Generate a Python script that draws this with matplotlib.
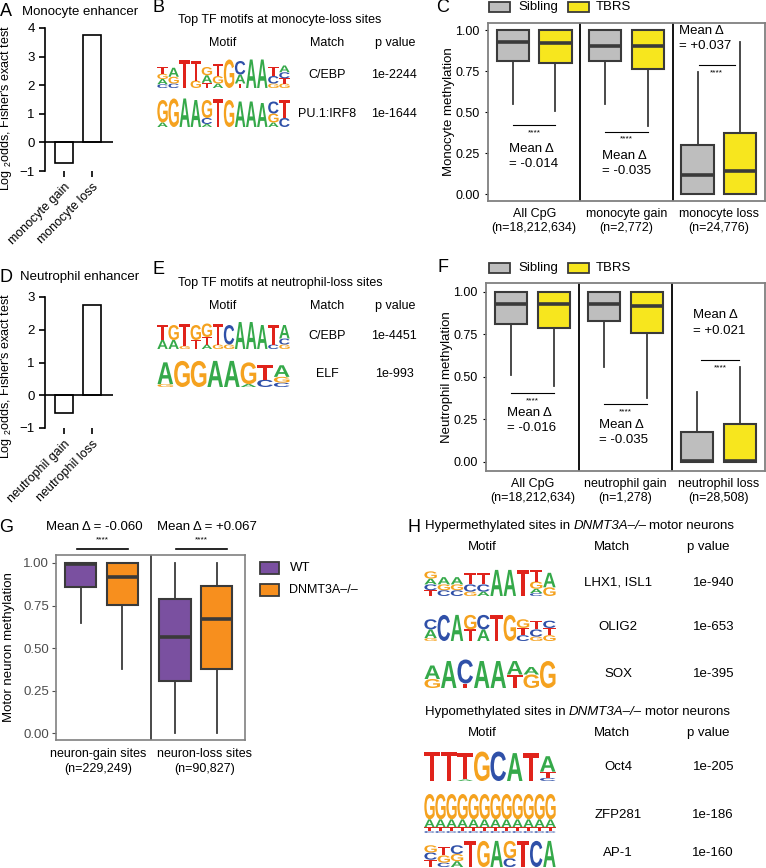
import matplotlib
matplotlib.use("Agg")
import matplotlib.pyplot as plt
from matplotlib.patches import Rectangle, PathPatch
from matplotlib.textpath import TextPath
from matplotlib.font_manager import FontProperties
from matplotlib.transforms import Affine2D

plt.rcParams['font.family'] = ['Liberation Sans', 'DejaVu Sans']
plt.rcParams['mathtext.fontset'] = 'custom'
plt.rcParams['mathtext.rm'] = 'Liberation Sans'
plt.rcParams['mathtext.it'] = 'Liberation Sans:italic'

# ---- data ----
mono_groups = ["monocyte gain", "monocyte loss"]
mono_log2odds = [-0.72, 3.75]
neut_groups = ["neutrophil gain", "neutrophil loss"]
neut_log2odds = [-0.55, 2.75]

# box stats per facet: (whislo, q1, med, q3, whishi)
mono_facets = ["All CpG\n(n=18,212,634)", "monocyte gain\n(n=2,772)", "monocyte loss\n(n=24,776)"]
mono_sibling = [(0.55, 0.81, 0.925, 1.0, 1.0), (0.55, 0.81, 0.905, 1.0, 1.0), (0.0, 0.0, 0.115, 0.30, 0.745)]
mono_tbrs = [(0.51, 0.80, 0.92, 1.0, 1.0), (0.415, 0.76, 0.90, 1.0, 1.0), (0.0, 0.0, 0.14, 0.375, 0.93)]
mono_delta = ["= -0.014", "= -0.035", "= +0.037"]

neut_facets = ["All CpG\n(n=18,212,634)", "neutrophil gain\n(n=1,278)", "neutrophil loss\n(n=28,508)"]
neut_sibling = [(0.51, 0.81, 0.93, 1.0, 1.0), (0.56, 0.83, 0.93, 1.0, 1.0), (0.0, 0.0, 0.005, 0.175, 0.41)]
neut_tbrs = [(0.445, 0.787, 0.93, 1.0, 1.0), (0.375, 0.76, 0.92, 1.0, 1.0), (0.0, 0.0, 0.005, 0.223, 0.56)]
neut_delta = ["= -0.016", "= -0.035", "= +0.021"]

neuron_facets = ["neuron-gain sites\n(n=229,249)", "neuron-loss sites\n(n=90,827)"]
neuron_wt = [(0.65, 0.86, 0.995, 1.0, 1.0), (0.0, 0.305, 0.565, 0.79, 1.0)]
neuron_ko = [(0.378, 0.755, 0.92, 1.0, 1.0), (0.0, 0.376, 0.67, 0.866, 1.0)]
neuron_delta = ["Mean \u0394 = -0.060", "Mean \u0394 = +0.067"]

# motif logos: columns of (letter, bits), top to bottom
mono_cebp_logo = [
    [("T", .45), ("G", .35), ("A", .35), ("C", .25)],
    [("A", .6), ("G", .45), ("C", .3)],
    [("T", 1.9)],
    [("T", 1.3), ("G", .5)],
    [("G", .55), ("A", .5), ("T", .35)],
    [("T", .8), ("G", .5), ("A", .3)],
    [("G", 1.9)],
    [("C", .9), ("A", .6), ("T", .3)],
    [("A", 1.9)],
    [("A", 1.9)],
    [("T", .6), ("C", .5), ("G", .3)],
    [("A", .45), ("C", .4), ("T", .35), ("G", .3)],
]
pu1_irf8_logo = [
    [("G", 1.5), ("A", .3)], [("G", 1.9)], [("A", 1.9)], [("A", 1.8)],
    [("G", 1.2), ("C", .4), ("A", .2)], [("T", 1.9)], [("G", 1.8)], [("A", 1.7)],
    [("A", 1.7)], [("A", 1.6)], [("C", .8), ("G", .6), ("A", .3)], [("T", 1.2), ("C", .6)],
]
neut_cebp_logo = [
    [("T", 1.0), ("A", .6)], [("G", 1.0), ("A", .6)], [("T", 1.5), ("G", .2)],
    [("G", 1.0), ("T", .6)], [("G", .9), ("T", .5), ("A", .3)], [("T", 1.4), ("G", .3)],
    [("C", 1.3), ("G", .3)], [("A", 1.8)], [("A", 1.8)], [("A", 1.6)],
    [("T", 1.3), ("C", .3)], [("A", .9), ("C", .4), ("G", .3)],
]
elf_logo = [
    [("A", 1.5), ("G", .2)], [("G", 1.8)], [("G", 1.8)], [("A", 1.8)], [("A", 1.8)],
    [("G", 1.5), ("A", .2)], [("T", 1.0), ("C", .5)], [("A", .8), ("G", .4), ("C", .3)],
]
lhx_logo = [
    [("G", .5), ("A", .4), ("C", .4), ("T", .4)], [("A", .5), ("G", .4), ("C", .4)],
    [("A", .5), ("G", .4), ("C", .4)], [("T", .8), ("C", .5), ("G", .3)],
    [("T", .8), ("C", .5), ("A", .3)], [("A", 1.8)], [("A", 1.8)], [("T", 1.8)],
    [("T", .8), ("G", .5), ("A", .3), ("C", .2)], [("A", 1.0), ("G", .6)],
]
olig2_logo = [
    [("C", .7), ("A", .6), ("G", .2)], [("C", 1.8)], [("A", 1.8)], [("G", 1.0), ("T", .8)],
    [("C", 1.0), ("A", .8)], [("T", 1.8)], [("G", 1.8)], [("G", .6), ("T", .5), ("C", .4)],
    [("T", .6), ("C", .5), ("G", .3)], [("C", .5), ("T", .5), ("G", .4)],
]
sox_logo = [
    [("A", .9), ("G", .6)], [("A", 1.8)], [("C", 1.6), ("T", .3)], [("A", 1.8)],
    [("A", 1.8)], [("A", .9), ("T", .9)], [("A", .5), ("G", .9)], [("G", 1.8)],
]
oct4_logo = [
    [("T", 1.9)], [("T", 1.9)], [("T", 1.7), ("A", .1)], [("G", 1.9)], [("C", 1.9)],
    [("A", 1.8)], [("T", 1.8)], [("A", 1.0), ("T", .4), ("C", .2)],
]
zfp281_logo = [[("G", 1.3), ("A", .4), ("T", .2), ("C", .1)] for _ in range(12)]
ap1_logo = [
    [("G", .5), ("C", .5), ("T", .5)], [("T", .6), ("G", .5), ("C", .3)],
    [("C", .6), ("G", .5), ("A", .4)], [("T", 1.8)], [("G", 1.8)], [("A", 1.8)],
    [("G", 1.2), ("C", .6)], [("T", 1.8)], [("C", 1.8)], [("A", 1.8)],
]

W, H = 766, 868
fig = plt.figure(figsize=(W / 100, H / 100), dpi=100)

GRAY = "#bebebe"
YELLOW = "#f7e61e"
PURPLE = "#7a50a0"
ORANGE = "#f78f1e"
EDGE = "#3a3a3a"
LOGO_COL = {"A": "#35a94a", "C": "#2f50a8", "G": "#f5a21f", "T": "#e0231b"}
FP = FontProperties(family="Liberation Sans", weight="bold")


def rect(x0, y0, x1, y1):
    return [x0 / W, 1 - y1 / H, (x1 - x0) / W, (y1 - y0) / H]


def txt(x, y, s, **kw):
    kw.setdefault("fontsize", 9)
    kw.setdefault("va", "center")
    return fig.text(x / W, 1 - y / H, s, **kw)


def box(x0, y0, x1, y1, fc):
    fig.patches.append(Rectangle((x0 / W, 1 - y1 / H), (x1 - x0) / W, (y1 - y0) / H,
                                 transform=fig.transFigure, fc=fc, ec=EDGE, lw=1.3))


def draw_letter(ax, ch, x, y, w, h):
    tp = TextPath((0, 0), ch, size=1, prop=FP)
    bb = tp.get_extents()
    tr = Affine2D().translate(-bb.x0, -bb.y0).scale(w / bb.width, h / bb.height).translate(x, y)
    ax.add_patch(PathPatch(tr.transform_path(tp), fc=LOGO_COL[ch], ec="none"))


def logo(x0, y0, x1, y1, columns):
    ax = fig.add_axes(rect(x0, y0, x1, y1))
    ax.set_xlim(0, len(columns))
    ax.set_ylim(0, 2)
    ax.axis("off")
    for i, col in enumerate(columns):
        y = 0
        for ch, h in reversed(col):
            if h > 0:
                draw_letter(ax, ch, i + 0.03, y, 0.94, h)
            y += h


def stats(vals):
    lo, q1, med, q3, hi = vals
    return dict(whislo=lo, q1=q1, med=med, q3=q3, whishi=hi, fliers=[])


def boxes(ax, data, color, offset, width):
    ax.bxp([stats(v) for v in data], positions=[i + offset for i in range(len(data))],
           widths=width, showfliers=False, showcaps=False, patch_artist=True,
           boxprops=dict(facecolor=color, edgecolor=EDGE, linewidth=1.5),
           medianprops=dict(color=EDGE, linewidth=2.6),
           whiskerprops=dict(color=EDGE, linewidth=1.3))


def enrich_panel(ax_box, groups, vals, ymax, letter, title, ly, lx, label_y):
    ax = fig.add_axes(rect(*ax_box))
    ax.bar(range(2), vals, width=0.65, color="white", edgecolor="black", lw=1.2, zorder=3)
    ax.axhline(0, color="black", lw=1.2, zorder=4)
    ax.set_xlim(-0.68, 1.75)
    ax.set_ylim(-1, ymax)
    ax.set_yticks(range(-1, ymax + 1))
    ax.spines[["top", "right", "bottom"]].set_visible(False)
    ax.spines["left"].set_linewidth(1.2)
    ax.set_xticks(range(2))
    ax.set_xticklabels(groups, rotation=45, ha="right", rotation_mode="anchor", fontsize=9)
    ax.tick_params(axis="y", labelsize=9.5, length=4, width=1.2)
    ax.tick_params(axis="x", length=4, width=1.2, pad=3)
    ax.set_ylabel(r"Log $_2$odds, Fisher's exact test", fontsize=9)
    ax.yaxis.set_label_coords(-0.45, label_y)
    txt(6, ly, letter, fontsize=13, ha="center")
    txt(lx, ly, title, fontsize=9.5)
    return ax


def meth_panel(ax_box, letter, facets, sib, tbrs, ylim, ylabel, deltas, ann, legend_y, letter_y):
    ax = fig.add_axes(rect(*ax_box))
    boxes(ax, sib, GRAY, 0.27, 0.35)
    boxes(ax, tbrs, YELLOW, 0.73, 0.35)
    ax.set_xlim(0, 3)
    ax.set_ylim(*ylim)
    for x in (1, 2):
        ax.axvline(x, color="black", lw=1.3)
    for s in ax.spines.values():
        s.set_color("#808080")
        s.set_linewidth(1.3)
    ax.set_yticks([0, 0.25, 0.5, 0.75, 1.0])
    ax.set_yticklabels(["0.00", "0.25", "0.50", "0.75", "1.00"])
    ax.tick_params(axis="y", labelsize=9, length=2, pad=4)
    ax.set_xticks([0.5, 1.5, 2.5])
    ax.set_xticklabels(facets, fontsize=9, linespacing=1.25)
    ax.tick_params(axis="x", length=0, pad=5)
    ax.set_ylabel(ylabel, fontsize=9.5)
    ax.yaxis.set_label_coords(-0.118, 0.5)
    for i, (d, (xl, ym, yd, yline, x0, x1)) in enumerate(zip(deltas, ann)):
        ax.text(i + xl, ym, "Mean \u0394", fontsize=9.5, va="center")
        ax.text(i + xl, yd, d, fontsize=9.5, va="center")
        ax.plot([i + x0, i + x1], [yline, yline], color="black", lw=0.8)
        ax.text(i + (x0 + x1) / 2, yline - 0.045, "****", fontsize=6, ha="center", va="center")
    txt(443, letter_y, letter, fontsize=13, ha="center")
    box(489, legend_y - 5, 510, legend_y + 5, GRAY)
    txt(518, legend_y, "Sibling", fontsize=9.5)
    box(568, legend_y - 5, 589, legend_y + 5, YELLOW)
    txt(596, legend_y, "TBRS", fontsize=9.5)
    return ax


def motif_table(letter, letter_y, title, title_y, rows):
    txt(159, letter_y, letter, fontsize=13, ha="center")
    txt(178, title_y, title, fontsize=9)
    hy = title_y + 23
    txt(223, hy, "Motif", ha="center")
    txt(327, hy, "Match", ha="center")
    txt(395, hy, "p value", ha="center")
    for (y0, y1, cols, match, p) in rows:
        logo(157, y0, 290, y1, cols)
        txt(327, (y0 + y1) / 2 + 2, match, ha="center")
        txt(394, (y0 + y1) / 2 + 2, p, ha="center")


# ---- A, D ----
enrich_panel((45, 28, 113, 171), mono_groups, mono_log2odds, 4, "A", "Monocyte enhancer", 12, 22, 0.44)
enrich_panel((45, 297, 113, 428), neut_groups, neut_log2odds, 3, "D", "Neutrophil enhancer", 277, 20, 0.40)

# ---- B, E ----
motif_table("B", 7, "Top TF motifs at monocyte-loss sites", 20,
            [(58, 88, mono_cebp_logo, "C/EBP", "1e-2244"), (97, 127, pu1_irf8_logo, "PU.1:IRF8", "1e-1644")])
motif_table("E", 269, "Top TF motifs at neutrophil-loss sites", 283,
            [(319, 349, neut_cebp_logo, "C/EBP", "1e-4451"), (358, 387, elf_logo, "ELF", "1e-993")])

# ---- C, F ----
meth_panel((488, 23, 765, 201), "C", mono_facets, mono_sibling, mono_tbrs, (-0.041, 1.043),
           "Monocyte methylation", mono_delta,
           [(0.23, 0.275, 0.185, 0.42, 0.27, 0.73),
            (0.24, 0.233, 0.14, 0.38, 0.27, 0.73),
            (0.07, 0.994, 0.90, 0.787, 0.28, 0.67)],
           7, 8)
meth_panel((486, 283, 765, 471), "F", neut_facets, neut_sibling, neut_tbrs, (-0.056, 1.053),
           "Neutrophil methylation", neut_delta,
           [(0.225, 0.286, 0.198, 0.404, 0.27, 0.73),
            (0.22, 0.215, 0.127, 0.34, 0.27, 0.73),
            (0.225, 0.864, 0.77, 0.60, 0.31, 0.72)],
           268, 268)

# ---- G ----
axG = fig.add_axes(rect(56, 555, 245, 740))
boxes(axG, neuron_wt, PURPLE, 0.26, 0.33)
boxes(axG, neuron_ko, ORANGE, 0.70, 0.33)
axG.set_xlim(0, 2)
axG.set_ylim(-0.041, 1.047)
axG.axvline(1, color=EDGE, lw=1.3)
for s in axG.spines.values():
    s.set_color("#808080")
    s.set_linewidth(1.2)
axG.set_yticks([0, 0.25, 0.5, 0.75, 1.0])
axG.set_yticklabels(["0.00", "0.25", "0.50", "0.75", "1.00"])
axG.tick_params(axis="y", labelsize=9.5, labelcolor="#4d4d4d", color="#4d4d4d", length=3, pad=2)
axG.set_xticks([0.45, 1.57])
axG.set_xticklabels(neuron_facets, fontsize=9, linespacing=1.25)
axG.tick_params(axis="x", length=0, pad=6)
axG.set_ylabel("Motor neuron methylation", fontsize=9.5)
axG.yaxis.set_label_coords(-0.215, 0.5)
for i, d in enumerate(neuron_delta):
    axG.text(i + 0.41 + 0.19 * i, 1.21, d, fontsize=9.5, ha="center", va="center", clip_on=False)
    axG.plot([i + 0.22 + 0.05 * i, i + 0.76 + 0.05 * i], [1.08, 1.08], color="black", lw=1.2, clip_on=False)
    axG.text(i + 0.49 + 0.05 * i, 1.135, "****", fontsize=6, ha="center", va="center", clip_on=False)
txt(6, 527, "G", fontsize=13, ha="center")
box(260, 562, 279, 574, PURPLE)
txt(290, 568, "WT", fontsize=9.5)
box(260, 584, 279, 596, ORANGE)
txt(289, 590, "DNMT3A\u2013/\u2013", fontsize=9)

# ---- H ----
txt(414, 527, "H", fontsize=13, ha="center")
renderer = fig.canvas.get_renderer()


def rich(x, y, parts):
    for s, style in parts:
        t = txt(x, y, s, style=style, fontsize=9.5)
        x += t.get_window_extent(renderer=renderer).width + 3


hyper_rows = [(567, 596, lhx_logo, "LHX1, ISL1", "1e-940"),
              (612, 641, olig2_logo, "OLIG2", "1e-653"),
              (658, 688, sox_logo, "SOX", "1e-395")]
hypo_rows = [(750, 781, oct4_logo, "Oct4", "1e-205"),
             (794, 833, zfp281_logo, "ZFP281", "1e-186"),
             (838, 867, ap1_logo, "AP-1", "1e-160")]
for title_y, word, rows in [(526, "Hypermethylated", hyper_rows), (712, "Hypomethylated", hypo_rows)]:
    rich(425, title_y, [(word + " sites in", "normal"), ("DNMT3A\u2013/\u2013", "italic"),
                        ("motor neurons", "normal")])
    txt(482, title_y + 21, "Motif", fontsize=9.5, ha="center")
    txt(612, title_y + 21, "Match", fontsize=9.5, ha="center")
    txt(708, title_y + 21, "p value", fontsize=9.5, ha="center")
    for (y0, y1, cols, match, p) in rows:
        logo(424, y0, 556, y1, cols)
        txt(618, (y0 + y1) / 2 + 1, match, fontsize=9.5, ha="center")
        txt(734, (y0 + y1) / 2 + 1, p, fontsize=9.5, ha="right")

fig.savefig("out.png", dpi=100)
